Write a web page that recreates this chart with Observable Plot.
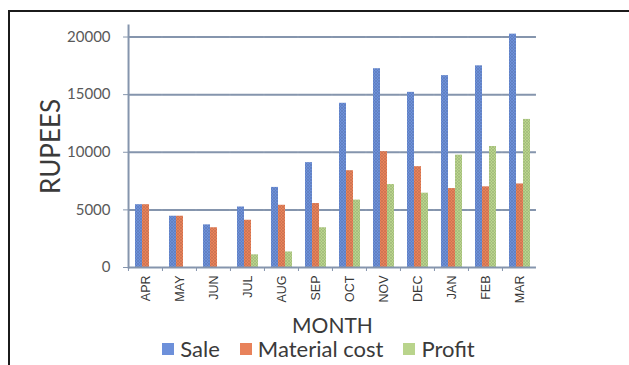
<!DOCTYPE html>
<html><head><meta charset="utf-8">
<script src="https://cdn.jsdelivr.net/npm/d3@7"></script>
<script src="https://cdn.jsdelivr.net/npm/@observablehq/plot@0.6"></script>
<style>
html,body{margin:0;padding:0;background:#fff}
body{width:629px;height:365px;overflow:hidden;position:relative;font-family:Lato,sans-serif}
#frame{position:absolute;left:8px;top:10px;width:700px;height:400px;border-top:2px solid #1b1b1b;border-left:2px solid #1b1b1b;pointer-events:none}
#chart{position:relative}
#chart svg{display:block}
[aria-label="fx-axis label"]{font-size:21px;font-family:Lato,sans-serif;fill:#3a3a3a}
[aria-label="y-axis label"]{font-size:26px;font-family:Lato,sans-serif;fill:#3a3a3a}
#legend{position:relative;top:-3px;height:27px;display:flex;justify-content:center;align-items:center;padding-left:8px;font-size:22px;color:#3a3a3a;line-height:1}
.item{display:flex;align-items:center;margin:0 10px}
.sw{width:12px;height:12px;margin-right:6px}
</style></head>
<body>
<div id="frame"></div>
<div id="chart"></div>
<div id="legend"></div>
<script>
const months = ["APR","MAY","JUN","JUL","AUG","SEP","OCT","NOV","DEC","JAN","FEB","MAR"];
const series = ["Sale","Material cost","Profit"];
const sale     = [5450, 4450, 3700, 5250, 6950, 9100, 14250, 17250, 15200, 16650, 17500, 20250];
const material = [5450, 4450, 3450, 4100, 5400, 5550,  8400, 10050,  8750,  6850,  7000,  7250];
const profit   = [   0,    0,    0, 1100, 1350, 3450,  5850,  7200,  6450,  9750, 10500, 12850];
const yTicks = [0, 5000, 10000, 15000, 20000];
const colors = ["#6d90da", "#e8825b", "#b9d48c"];

const values = [sale, material, profit];
const data = months.flatMap((m, i) => series.map((s, j) => ({month: m, series: s, value: values[j][i]})));

const gridColor = "#8595ad";
const W = 629, mL = 128, mR = 92;
const pInner = 0.35, pOuter = 0.175;
const step = (W - mL - mR) / (months.length - pInner + 2 * pOuter);
const half = step * pInner / 2; // half the gap between month groups

const plot = Plot.plot({
  width: W, height: 338,
  marginLeft: mL, marginRight: mR, marginTop: 25, marginBottom: 71,
  style: {fontFamily: "Lato, sans-serif", background: "transparent", overflow: "visible"},
  fx: {domain: months, paddingInner: pInner, paddingOuter: pOuter, label: "MONTH"},
  x: {domain: series, padding: 0, axis: null},
  y: {domain: [0, 21000], label: "RUPEES"},
  color: {domain: series, range: series.map((s, i) => `url(#hatch${i})`)},
  marks: [
    Plot.ruleY(yTicks.slice(1), {stroke: gridColor, strokeWidth: 2, insetLeft: -half, insetRight: -half}),
    Plot.axisY({ticks: yTicks, tickSize: 5, tickPadding: 13, fontSize: 15, fill: "#595959", dx: -half,
      stroke: gridColor, tickFormat: d => String(d),
      label: "RUPEES", labelAnchor: "center", labelArrow: "none", labelOffset: 93}),
    Plot.barY(data, {fx: "month", x: "series", y: "value", fill: "series"}),
    Plot.ruleY([0], {stroke: gridColor, strokeWidth: 2, insetLeft: -half, insetRight: -half}),
    Plot.frame({anchor: "left", facetAnchor: "left", stroke: gridColor, strokeWidth: 2, insetLeft: -half}),
    Plot.axisFx({anchor: "bottom", tickSize: 4, tickFormat: () => "", stroke: gridColor, dx: -step / 2, label: null}),
    Plot.axisFx({anchor: "bottom", tickRotate: -90, tickSize: 0, tickPadding: 8, fontSize: 12.5,
      fontFamily: "Liberation Sans, Arial, sans-serif", fill: "#383838",
      label: "MONTH", labelAnchor: "center", labelArrow: "none", labelOffset: 65})
  ]
});

const svg = d3.select(plot);
const defs = svg.insert("defs", ":first-child");
colors.forEach((c, i) => {
  const p = defs.append("pattern").attr("id", `hatch${i}`).attr("patternUnits", "userSpaceOnUse")
    .attr("width", 3).attr("height", 3);
  p.append("rect").attr("width", 3).attr("height", 3).attr("fill", c);
  p.append("path").attr("d", "M0,0L3,3M3,0L0,3").attr("stroke", d3.color(c).darker(0.5)).attr("stroke-width", 0.6);
});
document.getElementById("chart").appendChild(plot);

const legend = d3.select("#legend");
series.forEach((s, i) => {
  const it = legend.append("div").attr("class", "item");
  it.append("div").attr("class", "sw").style("background", colors[i]);
  it.append("span").text(s);
});
</script>
</body></html>
